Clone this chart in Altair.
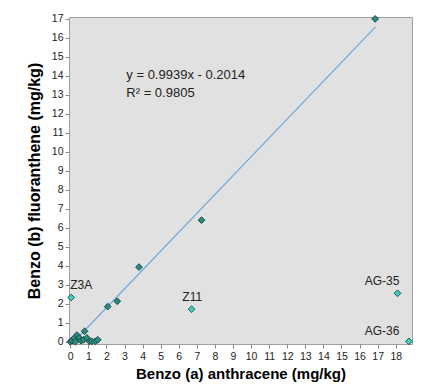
import altair as alt
import pandas as pd

# main (dark) samples
x_main = [0.0, 0.1, 0.22, 0.28, 0.37, 0.5, 0.6, 0.73, 0.79, 0.92, 1.06, 1.19, 1.38, 1.52,
          2.07, 2.6, 3.8, 7.26, 16.86]
y_main = [0.0, 0.05, 0.2, 0.0, 0.35, 0.2, 0.05, 0.1, 0.55, 0.2, 0.02, 0.02, 0.02, 0.1,
          1.85, 2.13, 3.93, 6.4, 17.0]

# labelled outliers
x_out = [0.05, 6.71, 18.1, 18.73]
y_out = [2.33, 1.71, 2.55, 0.02]
out_names = ["Z3A", "Z11", "AG-35", "AG-36"]
lab_x = [0.0, 6.2, 18.2, 18.2]
lab_y = [3.0, 2.35, 3.2, 0.55]
lab_align = ["left", "left", "right", "right"]

# trend line
slope = 0.9939
intercept = -0.2014
trend_x = [0.2, 16.88]
eq_lines = ["y = 0.9939x - 0.2014", "R² = 0.9805"]
eq_x = [3.1, 3.1]
eq_y = [14.05, 13.1]

x_ticks = list(range(0, 19))
y_ticks = list(range(0, 18))

df_main = pd.DataFrame({"x": x_main, "y": y_main})
df_out = pd.DataFrame({"x": x_out, "y": y_out})
df_lab = pd.DataFrame({"x": lab_x, "y": lab_y, "t": out_names, "a": lab_align})
df_tr = pd.DataFrame({"x": trend_x, "y": [slope * v + intercept for v in trend_x]})
df_eq = pd.DataFrame({"x": eq_x, "y": eq_y, "t": eq_lines})

xs = alt.Scale(domain=[-0.07, 18.9], nice=False, zero=False)
ys = alt.Scale(domain=[-0.12, 17.1], nice=False, zero=False)

xax = alt.Axis(values=x_ticks, title="Benzo (a) anthracene (mg/kg)", grid=False,
               labelFontSize=10.5, labelColor="#222", tickColor="#888", tickSize=4,
               labelOverlap=False, labelFlush=False,
               domain=False, titleFontSize=15, titleFontWeight="bold", titleFont="Liberation Sans",
               labelFont="Liberation Sans", titlePadding=5, labelPadding=3)
yax = alt.Axis(values=y_ticks, title="Benzo (b) fluoranthene (mg/kg)", grid=False,
               labelFontSize=10.5, labelColor="#222", tickColor="#888", tickSize=4,
               labelOverlap=False, labelFlush=False,
               domain=False, titleFontSize=16, titleFontWeight="bold", titleFont="Liberation Sans",
               labelFont="Liberation Sans", titlePadding=9, labelPadding=2)

X = alt.X("x:Q", scale=xs, axis=xax)
Y = alt.Y("y:Q", scale=ys, axis=yax)

trend = alt.Chart(df_tr).mark_line(color="#6FA8DC", strokeWidth=1.2).encode(x=X, y=Y)

pts = alt.Chart(df_main).mark_point(shape="diamond", filled=True, size=45, fill="#2A8C80",
                                     stroke="#1C4A45", strokeWidth=1, opacity=1).encode(x=X, y=Y)

outs = alt.Chart(df_out).mark_point(shape="diamond", filled=True, size=45, fill="#3CD0C4",
                                     stroke="#1C5A55", strokeWidth=1, opacity=1).encode(x=X, y=Y)

labs_l = alt.Chart(df_lab[df_lab.a == "left"]).mark_text(
    align="left", baseline="middle", fontSize=12, font="Liberation Sans", color="#222").encode(
    x=X, y=Y, text="t:N")
labs_r = alt.Chart(df_lab[df_lab.a == "right"]).mark_text(
    align="right", baseline="middle", fontSize=12, font="Liberation Sans", color="#222").encode(
    x=X, y=Y, text="t:N")

eq = alt.Chart(df_eq).mark_text(align="left", baseline="middle", fontSize=13,
                                font="Liberation Sans", color="#222").encode(
    x=X, y=Y, text="t:N")

chart = alt.layer(trend, pts, outs, labs_l, labs_r, eq).properties(
    width=343, height=327,
    autosize=alt.AutoSizeParams(type="none"),
    padding={"left": 61, "top": 9, "right": 5, "bottom": 44},
    background="white",
).configure_view(fill="#E1E1E1", stroke="#A0A0A0", strokeWidth=1)

chart.save("out.html", embed_options={"renderer": "svg", "actions": False})
